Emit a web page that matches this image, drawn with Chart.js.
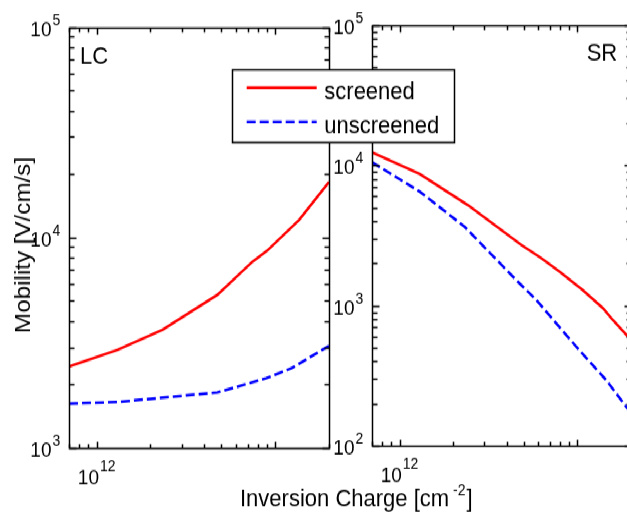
<!DOCTYPE html>
<html>
<head>
<meta charset="utf-8">
<script src="https://cdn.jsdelivr.net/npm/chart.js@4.4.1/dist/chart.umd.min.js"></script>
<style>
  html, body { margin: 0; padding: 0; background: #fff; overflow: hidden; }
  body { width: 627px; height: 514px; position: relative; }
  /* figure is drawn at 467px tall and stretched to the window height */
  #fig { position: absolute; left: 0; top: 0; width: 640px; height: 467px;
         transform: scale(1, 1.1006); transform-origin: 0 0; }
  #fig canvas { position: absolute; left: 0; top: 0; }
</style>
</head>
<body>
<div id="fig">
  <canvas id="lcChart" width="640" height="467"></canvas>
  <canvas id="srChart" width="640" height="467"></canvas>
</div>
<script>
// inversion charge in 1e12 cm^-2, mobility in cm^2/Vs
const lcScreenedX = [0.7, 1.31, 2.34, 4.74, 7.44, 9.0, 13.6, 20];
const lcScreenedY = [2430, 2920, 3640, 5330, 7650, 8630, 12100, 18350];
const lcUnscreenedX = [0.7, 1.31, 4.74, 8.9, 12.4, 20];
const lcUnscreenedY = [1620, 1650, 1830, 2140, 2390, 3050];

const srScreenedX = [0.7, 1.30, 2.42, 4.83, 6.25, 7.92, 10.7, 13.9, 15.8, 18.8, 20];
const srScreenedY = [12390, 8670, 5210, 2710, 2180, 1750, 1290, 960, 790, 620, 570];
const srUnscreenedX = [0.7, 1.30, 2.32, 4.53, 5.86, 9.84, 14.5, 18.8, 20];
const srUnscreenedY = [10510, 6490, 3650, 1520, 1100, 510, 295, 190, 172];

const seriesNames = ["screened", "unscreened"];
const xRange = [0.7e12, 2e13];
const lcYRange = [1e3, 1e5];
const srYRange = [1e2, 1e5];
const xTickExps = [12];
const lcYTickExps = [3, 4, 5];
const srYTickExps = [2, 3, 4, 5];

const FONT = '"Liberation Sans", Arial, Helvetica, sans-serif';
const RED = "#ff0000";
const BLUE = "#0000ff";

function toPoints(xs, ys) {
  return xs.map((x, i) => ({ x: x * 1e12, y: ys[i] }));
}

// 1..9 x 10^n ticks between min and max
function logTicks(min, max) {
  const out = [];
  for (let e = Math.floor(Math.log10(min)); e <= Math.ceil(Math.log10(max)); e++) {
    for (let m = 1; m < 10; m++) {
      const v = m * Math.pow(10, e);
      if (v >= min * 0.999 && v <= max * 1.001) out.push({ v, major: m === 1 });
    }
  }
  return out;
}

function crisp(v) {
  return Math.round(v) + 0.5;
}

function powerLabel(ctx, x, exp, align) {
  ctx.font = `19px ${FONT}`;
  const w1 = ctx.measureText("10").width;
  ctx.font = `14px ${FONT}`;
  const w2 = ctx.measureText(String(exp)).width;
  let x0 = x;
  if (align === "center") x0 = x - (w1 + 1 + w2) / 2;
  if (align === "right") x0 = x - w1;
  return { x0, w1, w2 };
}

// box, inward ticks on all sides and 10^n labels
const boxAxes = {
  id: "boxAxes",
  afterDraw(chart, args, opts) {
    const ctx = chart.ctx;
    const area = chart.chartArea;
    const left = crisp(area.left), right = crisp(area.right);
    const top = crisp(area.top), bottom = crisp(area.bottom);
    const xs = chart.scales.x, ys = chart.scales.y;
    ctx.save();
    ctx.strokeStyle = "#000";
    ctx.fillStyle = "#000";
    ctx.lineWidth = 1.5;
    ctx.strokeRect(left, top, right - left, bottom - top);

    ctx.beginPath();
    logTicks(xs.min, xs.max).forEach(t => {
      const px = crisp(xs.getPixelForValue(t.v));
      const len = t.major ? 6 : 4;
      ctx.moveTo(px, bottom); ctx.lineTo(px, bottom - len);
      ctx.moveTo(px, top); ctx.lineTo(px, top + len);
    });
    logTicks(ys.min, ys.max).forEach(t => {
      const py = crisp(ys.getPixelForValue(t.v));
      const len = t.major ? 7 : 5;
      ctx.moveTo(left, py); ctx.lineTo(left + len, py);
      ctx.moveTo(right, py); ctx.lineTo(right - len, py);
    });
    ctx.stroke();

    ctx.textBaseline = "alphabetic";
    ctx.textAlign = "left";
    opts.yExps.forEach(e => {
      const py = ys.getPixelForValue(Math.pow(10, e));
      const p = powerLabel(ctx, left - 18, e, "right");
      ctx.font = `19px ${FONT}`;
      ctx.fillText("10", p.x0, py + 8.2);
      ctx.font = `14px ${FONT}`;
      ctx.fillText(String(e), left - 17, py - 1.8);
    });
    opts.xExps.forEach(e => {
      const px = xs.getPixelForValue(Math.pow(10, e));
      const p = powerLabel(ctx, px, e, "center");
      ctx.font = `19px ${FONT}`;
      ctx.fillText("10", p.x0, bottom + 32.3);
      ctx.font = `14px ${FONT}`;
      ctx.fillText(String(e), p.x0 + p.w1 + 1, bottom + 20);
    });

    ctx.font = `22px ${FONT}`;
    ctx.fillText(opts.panel, opts.panelAt[0], opts.panelAt[1]);

    if (opts.yTitle) {
      ctx.save();
      ctx.translate(30, 222.6);
      ctx.rotate(-Math.PI / 2);
      ctx.textAlign = "center";
      ctx.font = `22px ${FONT}`;
      ctx.fillText(opts.yTitle, 0, 0);
      ctx.restore();
    }

    if (opts.xTitle) {
      let x = 240;
      const y = 459.8;
      ctx.font = `22px ${FONT}`;
      ctx.fillText("Inversion Charge [cm", x, y);
      x += ctx.measureText("Inversion Charge [cm").width + 4;
      ctx.font = `14px ${FONT}`;
      ctx.fillText("-2", x, y - 9.4);
      x += ctx.measureText("-2").width + 1;
      ctx.font = `22px ${FONT}`;
      ctx.fillText("]", x, y);
    }

    if (opts.legend) {
      const [bx0, by0, bx1, by1] = [232.5, 63.5, 454.5, 129.5];
      ctx.fillStyle = "#fff";
      ctx.fillRect(bx0, by0, bx1 - bx0, by1 - by0);
      ctx.strokeStyle = "#000";
      ctx.lineWidth = 1.5;
      ctx.strokeRect(bx0, by0, bx1 - bx0, by1 - by0);
      const rows = [[79.7, 89.7], [110.8, 120.8]];
      chart.data.datasets.forEach((ds, i) => {
        ctx.beginPath();
        ctx.strokeStyle = ds.borderColor;
        ctx.lineWidth = ds.borderWidth;
        ctx.setLineDash(ds.borderDash || []);
        ctx.moveTo(246.7, rows[i][0]);
        ctx.lineTo(316.7, rows[i][0]);
        ctx.stroke();
        ctx.setLineDash([]);
        ctx.fillStyle = "#000";
        ctx.font = `22px ${FONT}`;
        ctx.fillText(ds.label, 324.3, rows[i][1]);
      });
    }
    ctx.restore();
  }
};

function makeChart(id, screened, unscreened, yRange, padding, axesOpts) {
  return new Chart(document.getElementById(id), {
    type: "line",
    data: {
      datasets: [
        { label: seriesNames[0], data: screened, borderColor: RED, borderWidth: 2.5,
          pointRadius: 0, tension: 0, fill: false },
        { label: seriesNames[1], data: unscreened, borderColor: BLUE, borderWidth: 2.5,
          borderDash: [9, 4], pointRadius: 0, tension: 0, fill: false }
      ]
    },
    options: {
      responsive: false,
      animation: false,
      devicePixelRatio: 1,
      layout: { padding },
      scales: {
        x: { type: "logarithmic", min: xRange[0], max: xRange[1], display: false },
        y: { type: "logarithmic", min: yRange[0], max: yRange[1], display: false }
      },
      plugins: {
        legend: { display: false },
        tooltip: { enabled: false },
        boxAxes: axesOpts
      }
    },
    plugins: [boxAxes]
  });
}

makeChart("lcChart",
  toPoints(lcScreenedX, lcScreenedY),
  toPoints(lcUnscreenedX, lcUnscreenedY),
  lcYRange,
  { left: 69, right: 311, top: 24.5, bottom: 60.2 },
  { yExps: lcYTickExps, xExps: xTickExps, panel: "LC", panelAt: [80, 58.2],
    yTitle: "Mobility [V/cm/s]" });

makeChart("srChart",
  toPoints(srScreenedX, srScreenedY),
  toPoints(srUnscreenedX, srUnscreenedY),
  srYRange,
  { left: 372, right: 9, top: 22.7, bottom: 61.8 },
  { yExps: srYTickExps, xExps: xTickExps, panel: "SR", panelAt: [586.7, 54.5],
    xTitle: true, legend: true });
</script>
</body>
</html>
